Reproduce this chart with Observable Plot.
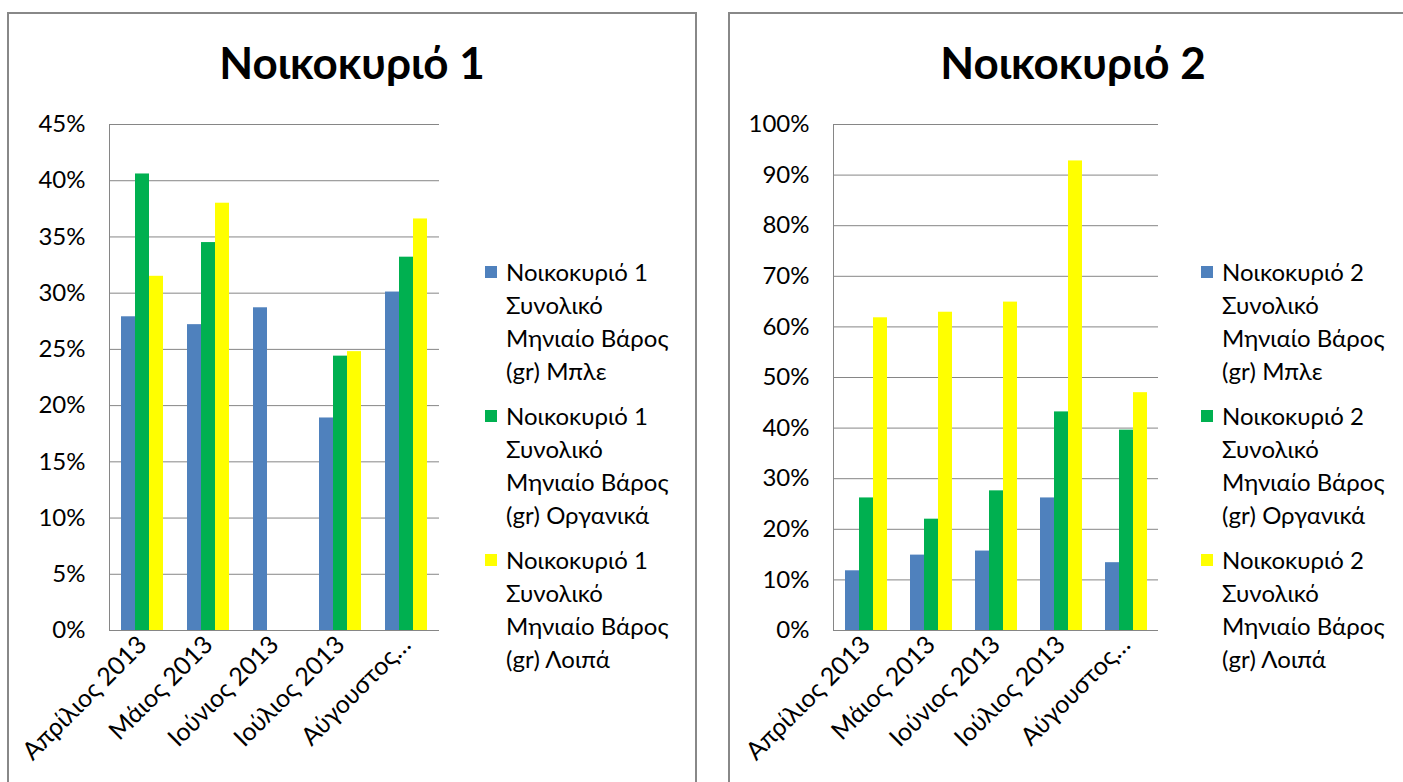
<!DOCTYPE html>
<html>
<head>
<meta charset="utf-8">
<script src="https://cdn.jsdelivr.net/npm/d3@7"></script>
<script src="https://cdn.jsdelivr.net/npm/@observablehq/plot@0.6"></script>
<style>
  body { margin: 0; background: #fff; width: 1403px; height: 782px; overflow: hidden; position: relative;
         font-family: Lato, "Noto Sans", sans-serif; color: #000; }
  .panel { position: absolute; top: 12px; width: 690px; height: 820px; border: 2px solid #888; box-sizing: border-box; background: #fff; }
  .title { position: absolute; left: 0; right: 0; top: 22px; text-align: center; font-weight: bold; font-size: 44px; line-height: 52px; }
  .chart { position: absolute; top: 86px; }
  .legend { position: absolute; top: 241px; font-size: 24px; line-height: 33px; }
  .item { position: relative; padding-left: 21px; margin-bottom: 12px; white-space: pre; }
  .sw { position: absolute; left: 0; top: 11px; width: 12px; height: 12px; }
</style>
</head>
<body>
<div id="root"></div>
<script>
// Months on the category axis
const months = ["Απρίλιος 2013", "Μάιος 2013", "Ιούνιος 2013", "Ιούλιος 2013", "Αύγουστος 2013"];

// Series labels per household
const series1 = [
  "Νοικοκυριό 1 Συνολικό Μηνιαίο Βάρος (gr) Μπλε",
  "Νοικοκυριό 1 Συνολικό Μηνιαίο Βάρος (gr) Οργανικά",
  "Νοικοκυριό 1 Συνολικό Μηνιαίο Βάρος (gr) Λοιπά"
];
const series2 = [
  "Νοικοκυριό 2 Συνολικό Μηνιαίο Βάρος (gr) Μπλε",
  "Νοικοκυριό 2 Συνολικό Μηνιαίο Βάρος (gr) Οργανικά",
  "Νοικοκυριό 2 Συνολικό Μηνιαίο Βάρος (gr) Λοιπά"
];

// Household 1 shares (null = no value recorded)
const h1Blue    = [0.279, 0.272, 0.287, 0.189, 0.301];
const h1Organic = [0.406, 0.345, null,  0.244, 0.332];
const h1Other   = [0.315, 0.380, null,  0.248, 0.366];

// Household 2 shares
const h2Blue    = [0.118, 0.149, 0.157, 0.262, 0.134];
const h2Organic = [0.262, 0.220, 0.276, 0.432, 0.396];
const h2Other   = [0.618, 0.629, 0.649, 0.928, 0.470];

// Axis ticks
const yTicks1 = [0, 0.05, 0.10, 0.15, 0.20, 0.25, 0.30, 0.35, 0.40, 0.45];
const yTicks2 = [0, 0.1, 0.2, 0.3, 0.4, 0.5, 0.6, 0.7, 0.8, 0.9, 1.0];

const colors = ["#4F81BD", "#00B050", "#FFFF00"];
const gridColor = "#868686";
const fontFamily = 'Lato, "Noto Sans", sans-serif';

function toRows(names, columns) {
  const rows = [];
  names.forEach((name, s) => {
    months.forEach((m, i) => rows.push({month: m, series: name, value: columns[s][i]}));
  });
  return rows;
}

function shortMonth(m) {
  return m.length > 13 ? m.split(" ")[0] + "…" : m;
}

// Legend entries wrap as: "Νοικοκυριό N" / "Συνολικό" / "Μηνιαίο Βάρος" / "(gr) …"
function wrapLabel(name) {
  const w = name.split(" ");
  return [w.slice(0, 2).join(" "), w[2], w.slice(3, 5).join(" "), w.slice(5).join(" ")].join("\n");
}

function chart(rows, names, ticks, {width, marginLeft, marginRight}) {
  return Plot.plot({
    width, height: 682,
    marginLeft, marginRight, marginTop: 24, marginBottom: 152,
    style: {fontFamily, fontSize: "24px", color: "#000", background: "transparent", overflow: "visible"},
    fx: {domain: months, padding: 0, label: null},
    x: {domain: names, axis: null, paddingInner: 0, paddingOuter: 0.75},
    y: {domain: [0, ticks[ticks.length - 1]], axis: null},
    color: {domain: names, range: colors},
    marks: [
      Plot.gridY(ticks, {stroke: gridColor, strokeOpacity: 1, strokeWidth: 1}),
      Plot.barY(rows, {fx: "month", x: "series", y: "value", fill: "series", inset: 0}),
      Plot.ruleY([0], {stroke: gridColor}),
      Plot.frame({anchor: "left", stroke: gridColor, facetAnchor: "left"}),
      Plot.axisY(ticks, {anchor: "left", tickSize: 0, tickPadding: 24, tickFormat: d3.format(".0%"), label: null, fontSize: 24}),
      Plot.axisFx({anchor: "bottom", tickRotate: -45, tickSize: 0, tickPadding: 10, label: null, tickFormat: shortMonth, fontSize: 25})
    ]
  });
}

function legend(names) {
  const div = document.createElement("div");
  div.className = "legend";
  names.forEach((name, i) => {
    const item = document.createElement("div");
    item.className = "item";
    const sw = document.createElement("span");
    sw.className = "sw";
    sw.style.background = colors[i];
    item.appendChild(sw);
    item.appendChild(document.createTextNode(wrapLabel(name)));
    div.appendChild(item);
  });
  return div;
}

function panel({left, title, names, columns, ticks, svgLeft, svgWidth, marginLeft, marginRight, legendLeft}) {
  const p = document.createElement("div");
  p.className = "panel";
  p.style.left = left + "px";
  const t = document.createElement("div");
  t.className = "title";
  t.textContent = title;
  p.appendChild(t);
  const c = chart(toRows(names, columns), names, ticks, {width: svgWidth, marginLeft, marginRight});
  const wrap = document.createElement("div");
  wrap.className = "chart";
  wrap.style.left = (svgLeft - left - 2) + "px";
  wrap.appendChild(c);
  p.appendChild(wrap);
  const l = legend(names);
  l.style.left = (legendLeft - left - 2) + "px";
  p.appendChild(l);
  document.getElementById("root").appendChild(p);
}

panel({
  left: 7, title: "Νοικοκυριό 1", names: series1,
  columns: [h1Blue, h1Organic, h1Other], ticks: yTicks1,
  svgLeft: 0, svgWidth: 460, marginLeft: 107, marginRight: 19, legendLeft: 485
});
panel({
  left: 728, title: "Νοικοκυριό 2", names: series2,
  columns: [h2Blue, h2Organic, h2Other], ticks: yTicks2,
  svgLeft: 720, svgWidth: 460, marginLeft: 112, marginRight: 22, legendLeft: 1201
});
</script>
</body>
</html>
